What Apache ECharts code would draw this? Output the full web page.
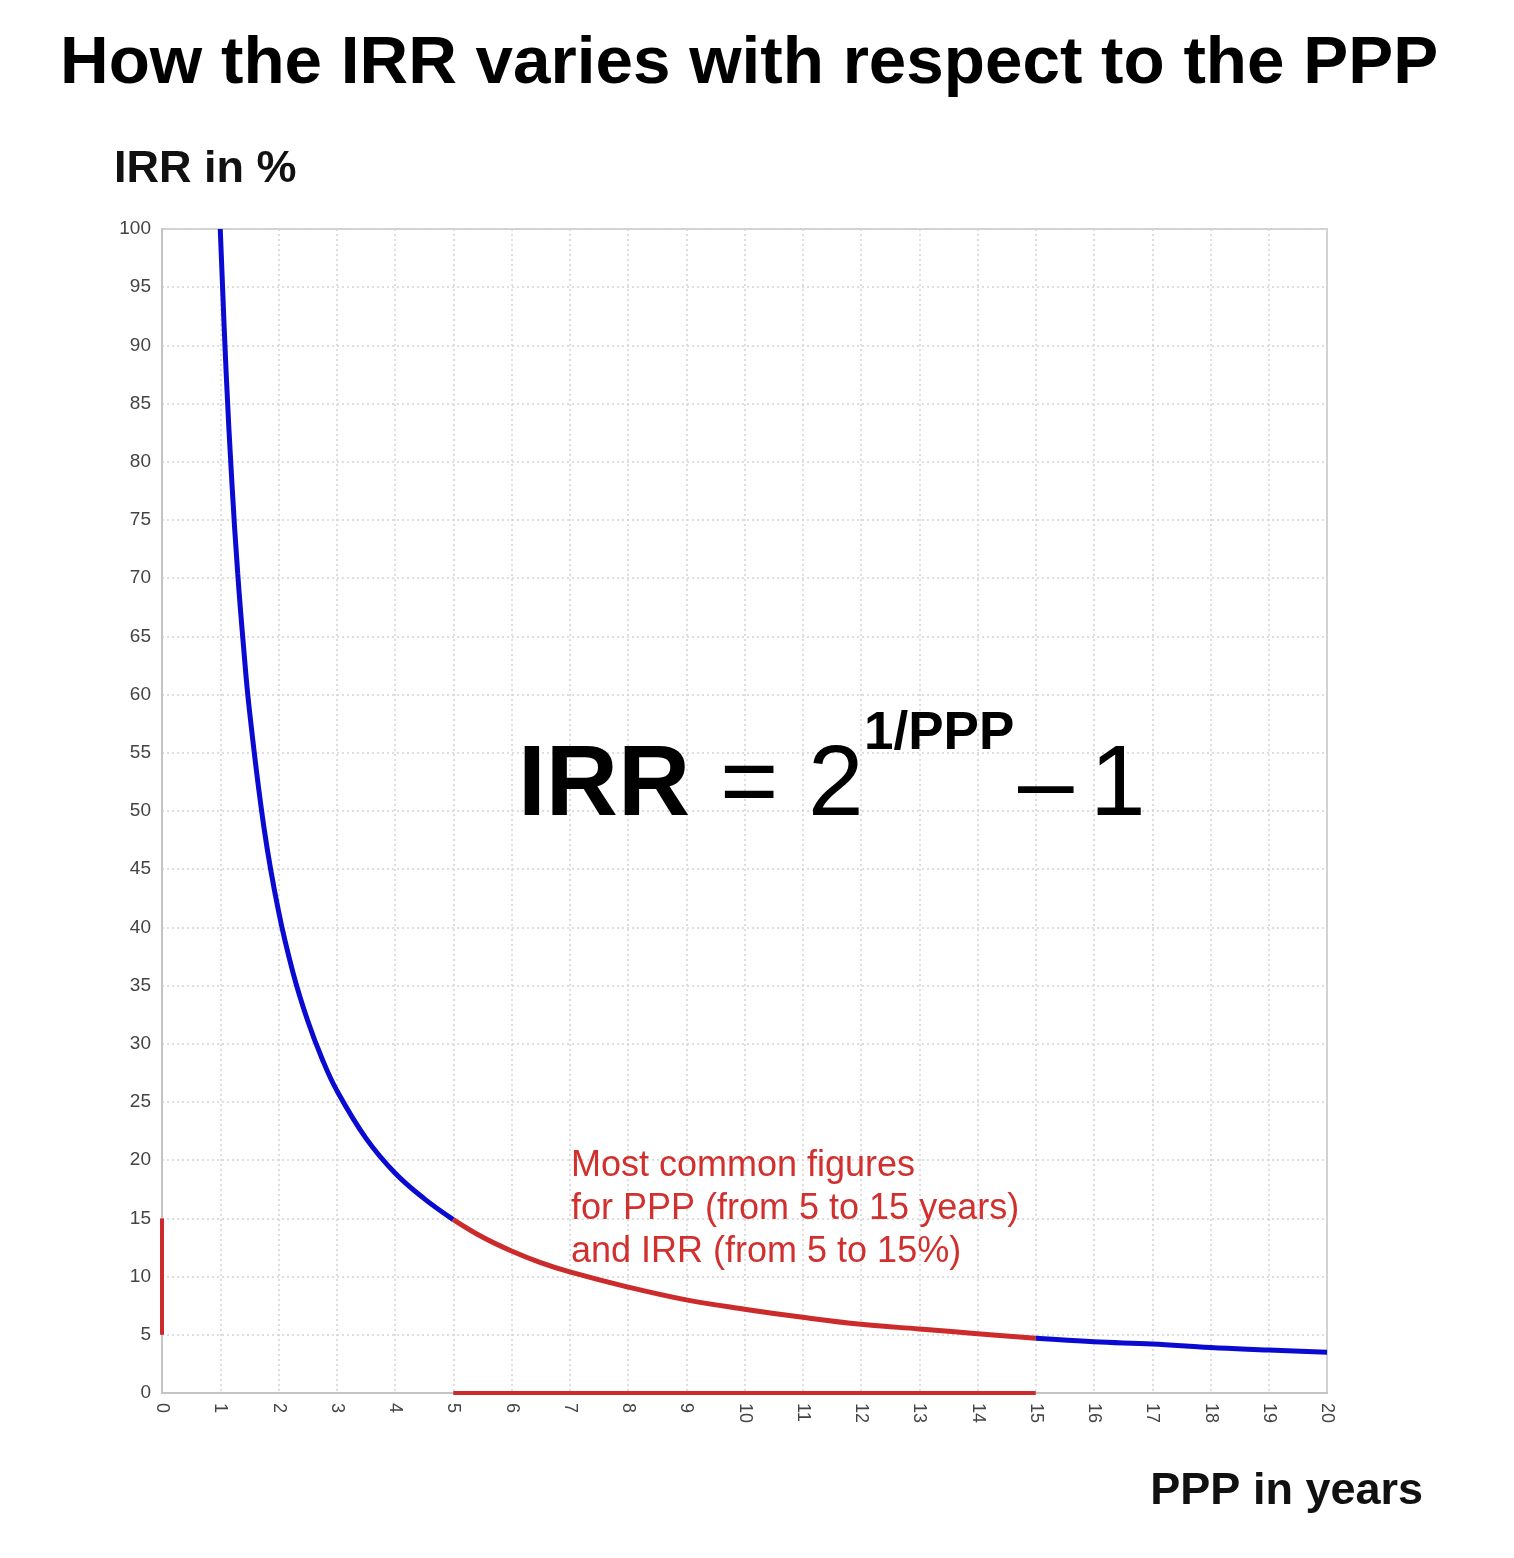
<!DOCTYPE html>
<html>
<head>
<meta charset="utf-8">
<script src="https://cdn.jsdelivr.net/npm/echarts@6/dist/echarts.min.js"></script>
<style>
html,body{margin:0;padding:0;background:#fff;}
#chart{width:1514px;height:1558px;}
</style>
</head>
<body>
<div id="chart"></div>
<script>
// PPP (years) vs IRR (%)
const curveHighX = [1, 1.1, 1.2, 1.3, 1.4, 1.5, 1.75, 2, 2.25, 2.5, 2.75, 3, 3.5, 4, 4.5, 5];
const curveHighY = [100, 87.8, 78.2, 70.4, 64.1, 58.7, 48.6, 41.4, 36.1, 32.0, 28.7, 26.0, 21.9, 18.9, 16.7, 14.9];
const curveMidX = [5, 5.5, 6, 6.5, 7, 8, 9, 10, 11, 12, 13, 14, 15];
const curveMidY = [14.9, 13.4, 12.2, 11.2, 10.4, 9.1, 8.0, 7.2, 6.5, 5.9, 5.5, 5.1, 4.7];
const curveLowX = [15, 16, 17, 18, 19, 20];
const curveLowY = [4.7, 4.4, 4.2, 3.9, 3.7, 3.5];
const irrRangeY = [5, 15];   // common IRR range (%)
const pppRangeX = [5, 15];   // common PPP range (years)
const xTicks = [0,1,2,3,4,5,6,7,8,9,10,11,12,13,14,15,16,17,18,19,20];
const yTicks = [0,5,10,15,20,25,30,35,40,45,50,55,60,65,70,75,80,85,90,95,100];

const pairs = (xs, ys) => xs.map((x, i) => [x, ys[i]]);
const BLUE = '#0a0ad0';
const RED = '#cc2b2b';
const FONT = '"Liberation Sans", Arial, sans-serif';

const chart = echarts.init(document.getElementById('chart'), null, {renderer: 'canvas'});
chart.setOption({
  animation: false,
  backgroundColor: '#ffffff',
  grid: {left: 162, right: 187, top: 229, bottom: 165, show: true, borderColor: '#d2d2d2', borderWidth: 2, backgroundColor: '#fff'},
  xAxis: {
    type: 'value', min: xTicks[0], max: xTicks[xTicks.length - 1], interval: 1,
    axisLine: {show: true, lineStyle: {color: '#c4c4c4', width: 2}},
    axisTick: {show: false},
    splitLine: {show: true, lineStyle: {color: '#d4d4d4', width: 1.5, type: [2, 3]}},
    axisLabel: {rotate: -90, fontSize: 18, color: '#444', fontFamily: FONT, margin: 10}
  },
  yAxis: {
    type: 'value', min: yTicks[0], max: yTicks[yTicks.length - 1], interval: 5,
    axisLine: {show: true, lineStyle: {color: '#c4c4c4', width: 2}},
    axisTick: {show: false},
    splitLine: {show: true, lineStyle: {color: '#d4d4d4', width: 1.5, type: [2, 3]}},
    axisLabel: {fontSize: 19, color: '#444', fontFamily: FONT, margin: 11}
  },
  series: [
    {type: 'line', data: pairs(curveHighX, curveHighY), smooth: 0.4, symbol: 'none', clip: false,
     lineStyle: {color: BLUE, width: 5}},
    {type: 'line', data: pairs(curveMidX, curveMidY), smooth: 0.4, symbol: 'none', clip: false,
     lineStyle: {color: RED, width: 5}},
    {type: 'line', data: pairs(curveLowX, curveLowY), smooth: 0.4, symbol: 'none', clip: false,
     lineStyle: {color: BLUE, width: 5}},
    {type: 'line', data: irrRangeY.map(y => [0, y]), symbol: 'none', clip: false, z: 5,
     lineStyle: {color: RED, width: 4}},
    {type: 'line', data: pppRangeX.map(x => [x, 0]), symbol: 'none', clip: false, z: 5,
     lineStyle: {color: RED, width: 4}}
  ],
  graphic: [
    {type: 'text', z: 100, left: 60, top: 31, style: {text: 'How the IRR varies with respect to the PPP', font: 'bold 67.4px ' + FONT, fill: '#000'}},
    {type: 'text', z: 100, left: 114, top: 147, style: {text: 'IRR in %', font: 'bold 45px ' + FONT, fill: '#111'}},
    {type: 'text', z: 100, right: 91, top: 1469, style: {text: 'PPP in years', font: 'bold 45px ' + FONT, fill: '#111'}},
    {type: 'text', z: 100, x: 518, y: 737, style: {text: 'IRR', font: 'bold 100px ' + FONT, fill: '#000'}},
    {type: 'text', z: 100, x: 720, y: 737, style: {text: '=', font: '100px ' + FONT, fill: '#000'}},
    {type: 'text', z: 100, x: 808, y: 737, style: {text: '2', font: '100px ' + FONT, fill: '#000'}},
    {type: 'text', z: 100, x: 864, y: 708, style: {text: '1/PPP', font: 'bold 53px ' + FONT, fill: '#000'}},
    {type: 'text', z: 100, x: 1018, y: 737, style: {text: '\u2013', font: '100px ' + FONT, fill: '#000'}},
    {type: 'text', z: 100, x: 1090, y: 737, style: {text: '1', font: '100px ' + FONT, fill: '#000'}},
    {type: 'text', z: 100, x: 571, y: 1145, style: {text: 'Most common figures\nfor PPP (from 5 to 15 years)\nand IRR (from 5 to 15%)', font: '36px ' + FONT, lineHeight: 43, fill: '#d0302e'}}
  ]
});
</script>
</body>
</html>
